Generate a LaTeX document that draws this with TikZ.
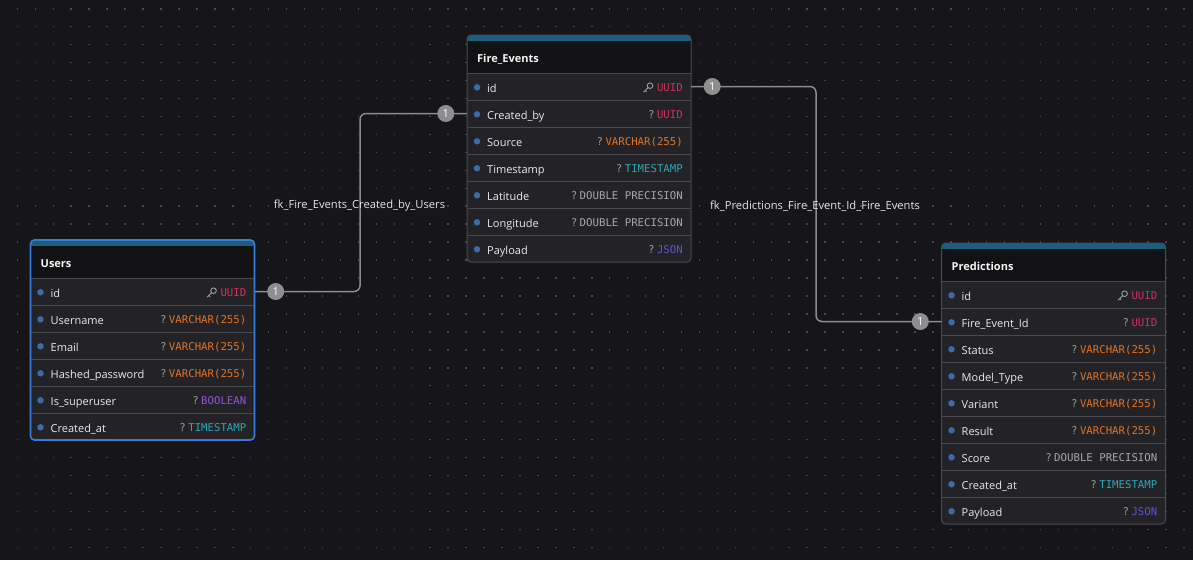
\documentclass[tikz,border=0pt]{standalone}
\usepackage{fontspec}
\setmainfont{Open Sans}
\setmonofont{DejaVu Sans Mono}
\definecolor{bgc}{HTML}{16151A}
\definecolor{dotc}{HTML}{47474D}
\definecolor{rowbg}{HTML}{232327}
\definecolor{hdrc}{HTML}{121215}
\definecolor{bandc}{HTML}{1B5F7D}
\definecolor{divc}{HTML}{48484D}
\definecolor{borderc}{HTML}{4A4A50}
\definecolor{selc}{HTML}{3A7BD5}
\definecolor{bulletc}{HTML}{3D6BA8}
\definecolor{namec}{HTML}{EAEAEA}
\definecolor{titlec}{HTML}{F4F4F4}
\definecolor{uuidc}{HTML}{D0325E}
\definecolor{varc}{HTML}{E07428}
\definecolor{tsc}{HTML}{2AA9B9}
\definecolor{boolc}{HTML}{9057D6}
\definecolor{jsonc}{HTML}{5856D6}
\definecolor{dblc}{HTML}{A8A8A8}
\definecolor{qc}{HTML}{9A9A9A}
\definecolor{keyc}{HTML}{A0A0A0}
\definecolor{connc}{HTML}{8C8C8C}
\definecolor{badgec}{HTML}{8E8E8E}
\definecolor{labelc}{HTML}{E4E4E4}
\tikzset{
  rowcell/.style={minimum width=224pt, minimum height=27pt, inner sep=0pt, draw=none},
  divider/.style={draw=divc, line width=0.9pt},
  plainborder/.style={draw=borderc, line width=1pt},
  selborder/.style={draw=selc, line width=1.6pt},
  titletext/.style={inner sep=0pt, text=titlec, font=\bfseries\fontsize{11}{13}\selectfont},
  rowname/.style={inner sep=0pt, text=namec, font=\fontsize{11}{13}\selectfont},
  typetext/.style={inner sep=0pt, text height=7pt, text depth=0pt, font=\ttfamily\fontsize{10.7}{12}\selectfont},
  bulletdot/.style={circle, fill=bulletc, inner sep=0pt, minimum size=6.5pt},
  keyline/.style={draw=keyc, line width=0.9pt, line cap=round},
  conn/.style={draw=connc, line width=1.5pt, rounded corners=6pt},
  badge/.style={circle, fill=badgec, inner sep=0pt, minimum size=17pt, text=white, font=\fontsize{11}{12}\selectfont},
  fklabel/.style={inner sep=1pt, text=labelc, font=\fontsize{11.2}{13}\selectfont},
}
\newcommand\mktable[7]{%
\pgfmathsetmacro\tH{38+27*#5}%
\begin{scope}[shift={(#2,#3)}]
  \fill[rowbg, rounded corners=4pt] (0,0) rectangle (224,\tH);
  \begin{scope}
    \clip[rounded corners=4pt] (0,0) rectangle (224,\tH);
    \fill[bandc] (0,0) rectangle (224,6);
    \fill[hdrc] (0,6) rectangle (224,38);
  \end{scope}
  \node[titletext, anchor=base west] (#1-title) at (10,27.7) {#4};
  \foreach [count=\i] \nm/\ty/\cl/\k in {#6} {
    \pgfmathsetmacro\yt{38+27*(\i-1)}
    \pgfmathsetmacro\yc{38+27*(\i-0.5)}
    \draw[divider] (0,\yt) -- (224,\yt);
    \node[rowcell] (#1-\i) at (112,\yc) {};
    \node[bulletdot] (#1-b\i) at (10,{\yc+0.8}) {};
    \node[rowname, anchor=base west] (#1-n\i) at (20,{\yc+5.9}) {\nm};
    \node[typetext, anchor=base east, text=\cl] (#1-t\i) at (216,{\yc+5.0}) {\ty};
    \ifnum\k=1
      \begin{scope}[shift={(#1-t\i.base west)}]
        \draw[keyline] (-6.8,-5.8) circle (2.8);
        \draw[keyline] (-8.8,-3.8) -- (-13.2,0.6);
        \draw[keyline] (-11.6,-1.0) -- (-10.4,0.2);
      \end{scope}
    \else
      \node[typetext, text=qc, anchor=base east] (#1-q\i) at ([xshift=-2pt]#1-t\i.base west) {?};
    \fi
  }
  \draw[#7, rounded corners=4pt] (0,0) rectangle (224,\tH);
\end{scope}}
\begin{document}
\begin{tikzpicture}[x=1pt, y=-1pt]
\useasboundingbox (0,0) rectangle (1193,560);
\fill[bgc] (0,0) rectangle (1193,560);
\foreach \i in {0,...,66} {
  \foreach \j in {0,...,31} {
    \fill[dotc] ({16.6+\i*17.95},{8.0+\j*17.95}) rectangle ++(1.5,1.5);
  }
}
\mktable{f}{467}{35}{Fire\_Events}{7}{%
  id/UUID/uuidc/1,
  Created\_by/UUID/uuidc/0,
  Source/VARCHAR(255)/varc/0,
  Timestamp/TIMESTAMP/tsc/0,
  Latitude/DOUBLE PRECISION/dblc/0,
  Longitude/DOUBLE PRECISION/dblc/0,
  Payload/JSON/jsonc/0}{plainborder}
\mktable{p}{941.5}{243}{Predictions}{9}{%
  id/UUID/uuidc/1,
  Fire\_Event\_Id/UUID/uuidc/0,
  Status/VARCHAR(255)/varc/0,
  Model\_Type/VARCHAR(255)/varc/0,
  Variant/VARCHAR(255)/varc/0,
  Result/VARCHAR(255)/varc/0,
  Score/DOUBLE PRECISION/dblc/0,
  Created\_at/TIMESTAMP/tsc/0,
  Payload/JSON/jsonc/0}{plainborder}
\mktable{u}{30.5}{240}{Users}{6}{%
  id/UUID/uuidc/1,
  Username/VARCHAR(255)/varc/0,
  Email/VARCHAR(255)/varc/0,
  Hashed\_password/VARCHAR(255)/varc/0,
  Is\_superuser/BOOLEAN/boolc/0,
  Created\_at/TIMESTAMP/tsc/0}{selborder}
% connectors
\coordinate (k1) at (360,0);
\coordinate (k2) at (816,0);
\draw[conn] (u-1.east) -| (k1 |- f-2.west) -- (f-2.west);
\draw[conn] (f-1.east) -| (k2 |- p-2.west) -- (p-2.west);
\node[badge, xshift=21pt] (bu) at (u-1.east) {1};
\node[badge, xshift=-21pt] (bf) at (f-2.west) {1};
\node[badge, xshift=21pt] (bf2) at (f-1.east) {1};
\node[badge, xshift=-21pt] (bp) at (p-2.west) {1};
\node[fklabel] (l1) at (359.5,206) {fk\_Fire\_Events\_Created\_by\_Users};
\node[fklabel] (l2) at (815,206.5) {fk\_Predictions\_Fire\_Event\_Id\_Fire\_Events};
\end{tikzpicture}
\end{document}
